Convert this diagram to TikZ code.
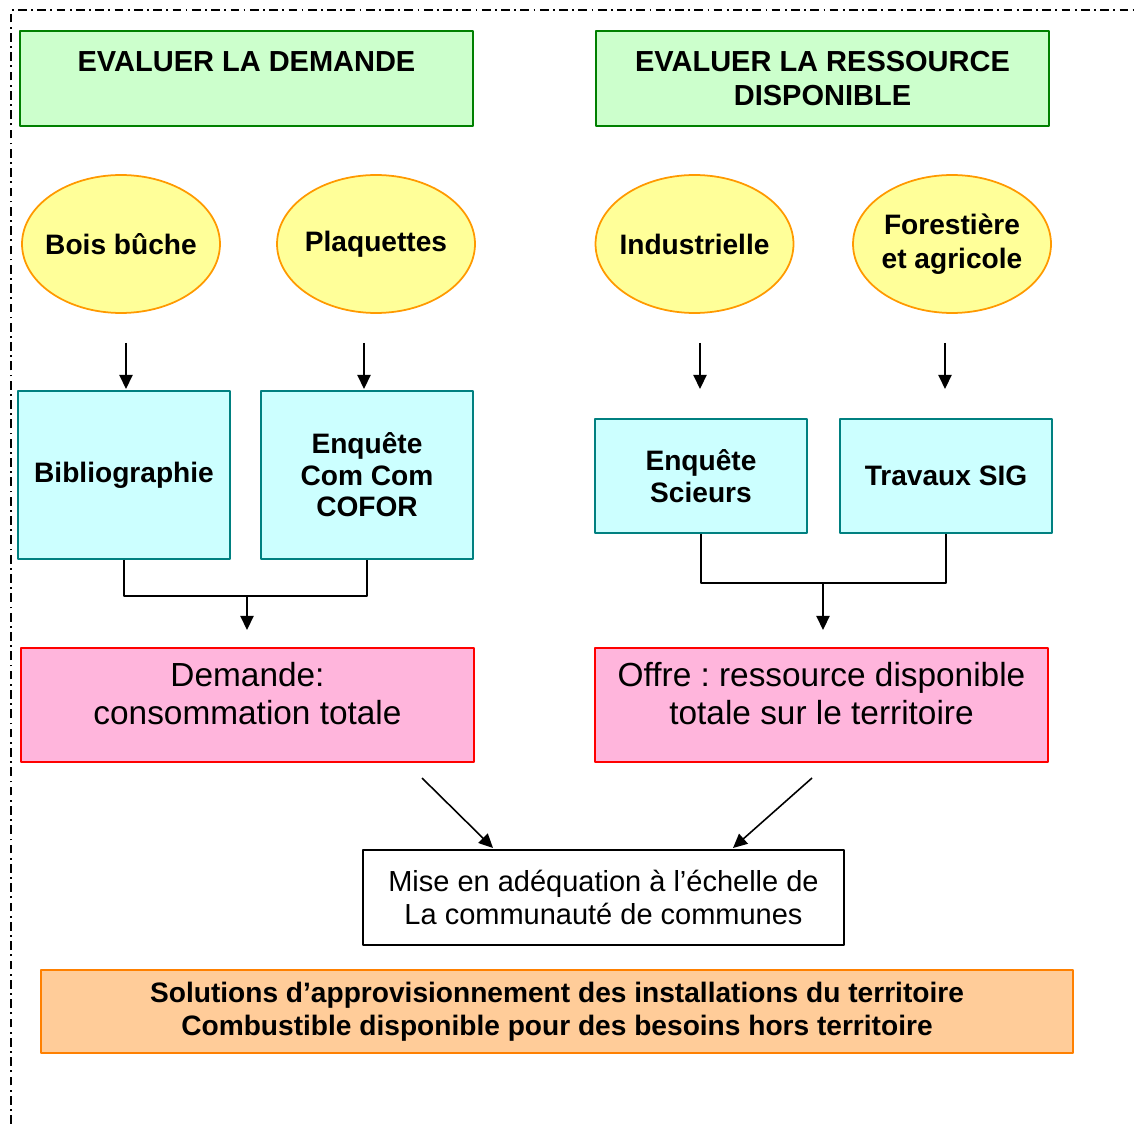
\documentclass[tikz,border=0pt]{standalone}
\usepackage{fontspec}
\setmainfont{Liberation Sans}
\usetikzlibrary{shapes.geometric,arrows.meta}
\definecolor{vertclair}{HTML}{CCFFCC}
\definecolor{vertfonce}{HTML}{008000}
\definecolor{jaune}{HTML}{FFFF99}
\definecolor{orangebord}{HTML}{FF9900}
\definecolor{cyanclair}{HTML}{CCFFFF}
\definecolor{sarcelle}{HTML}{008080}
\definecolor{rose}{HTML}{FFB5DC}
\definecolor{saumon}{HTML}{FFCC99}
\definecolor{orangefonce}{HTML}{FF8000}
\frenchspacing
\begin{document}
\begin{tikzpicture}[x=0.02cm,y=-0.02cm,line join=round,>={Triangle[length=8pt,width=7.5pt]},
	titre/.style={draw=vertfonce,fill=vertclair,line width=1.1pt,minimum width=9.06cm,minimum height=1.9cm,inner sep=0pt,align=center,font=\fontsize{16.5}{19.5}\selectfont\bfseries},
	bulle/.style={ellipse,draw=orangebord,fill=jaune,line width=1pt,minimum width=3.96cm,minimum height=2.76cm,inner xsep=-0.3cm,inner ysep=0pt,align=center,font=\fontsize{16}{19}\selectfont\bfseries},
	source/.style={draw=sarcelle,fill=cyanclair,line width=1pt,minimum width=4.24cm,inner sep=0pt,align=center,font=\fontsize{16}{18}\selectfont\bfseries},
	bilan/.style={draw=red,fill=rose,line width=1pt,minimum width=9.06cm,minimum height=2.28cm,inner sep=0pt,text depth=0.46cm,align=center,font=\fontsize{19}{21.5}\selectfont},
	fleche/.style={line width=0.9pt,->}]
	%Cadre en tirets-points
	\useasboundingbox (0,0) rectangle (1138,1124);
	\draw[line width=1pt,dash pattern=on 5pt off 2.5pt on 1pt off 2.5pt](11,1124)--(11,10)--(1138,10);
	\node[titre](demande) at (246.5,78.5){EVALUER LA DEMANDE\\ \mbox{}};
	\node[titre](ressource) at (822.5,78.5){EVALUER LA RESSOURCE\\DISPONIBLE};
	\foreach \n/\x/\t in {bois/121/Bois bûche,plaq/376/Plaquettes,indus/694.5/Industrielle,foret/952/{Forestière\\et agricole}}
	\node[bulle](\n) at (\x,244){\t};
	\foreach \i/\x in {1/126,2/364,3/700,4/945}{
		\coordinate(h\i) at (\x,343);
		\coordinate(b\i) at (\x,389);
		\draw[fleche](h\i)--(b\i);}
	\node[source,minimum height=3.36cm](biblio) at (124,475){Bibliographie};
	\node[source,minimum height=3.36cm](cofor) at (367,475){Enquête\\Com Com\\COFOR};
	\node[source,minimum height=2.28cm](scieurs) at (701,476){Enquête\\Scieurs};
	\node[source,minimum height=2.28cm](sig) at (946,476){Travaux SIG};
	\draw[line width=0.9pt](biblio.south)--++(0,36)-|(cofor.south);
	\draw[line width=0.9pt](scieurs.south)--++(0,49)-|(sig.south);
	\coordinate(j1) at (247,595);
	\coordinate(k1) at (247,630);
	\coordinate(j2) at (823,582);
	\coordinate(k2) at (823,630);
	\draw[fleche](j1)--(k1);
	\draw[fleche](j2)--(k2);
	\node[bilan](conso) at (247.5,705){Demande:\\consommation totale};
	\node[bilan](offre) at (821.5,705){Offre : ressource disponible\\totale sur le territoire};
	\coordinate(d1) at (422,778);
	\coordinate(f1) at (493,848);
	\coordinate(d2) at (812,778);
	\coordinate(f2) at (733,848);
	\draw[fleche](d1)--(f1);
	\draw[fleche](d2)--(f2);
	\node[draw,line width=1pt,minimum width=9.62cm,minimum height=1.9cm,inner sep=0pt,align=center,font=\fontsize{16.5}{19.3}\selectfont](mise) at (603.5,897.5){Mise en adéquation à l’échelle de\\La communauté de communes};
	\node[draw=orangefonce,fill=saumon,line width=1.1pt,minimum width=20.64cm,minimum height=1.66cm,inner sep=0pt,align=center,font=\fontsize{16}{18.7}\selectfont\bfseries](solutions) at (557,1011.5){Solutions d’approvisionnement des installations du territoire\\Combustible disponible pour des besoins hors territoire};
\end{tikzpicture}
\end{document}
